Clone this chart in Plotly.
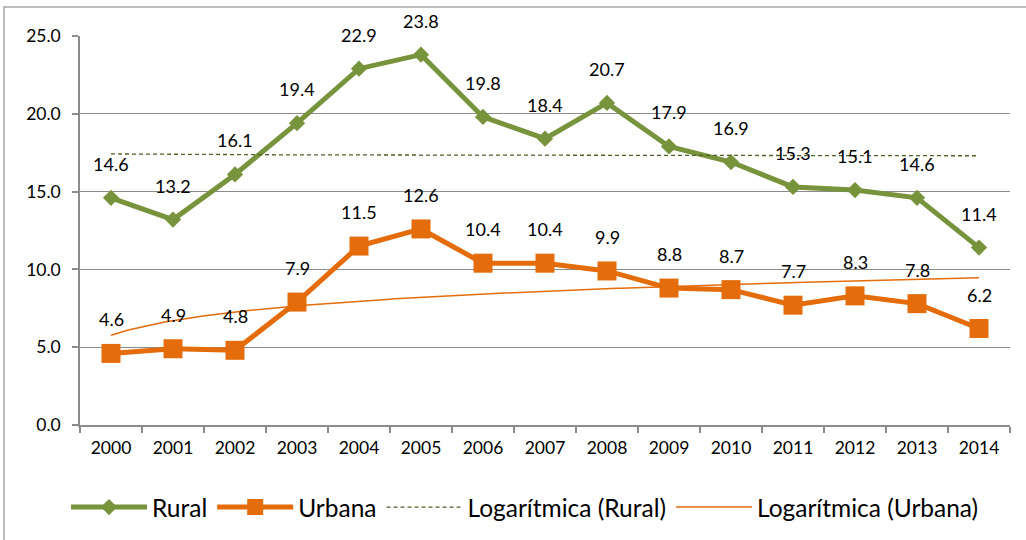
import numpy as np
import plotly.graph_objects as go

years = ["2000", "2001", "2002", "2003", "2004", "2005", "2006", "2007",
         "2008", "2009", "2010", "2011", "2012", "2013", "2014"]
rural = [14.6, 13.2, 16.1, 19.4, 22.9, 23.8, 19.8, 18.4, 20.7, 17.9, 16.9, 15.3, 15.1, 14.6, 11.4]
urbana = [4.6, 4.9, 4.8, 7.9, 11.5, 12.6, 10.4, 10.4, 9.9, 8.8, 8.7, 7.7, 8.3, 7.8, 6.2]
y_ticks = [0, 5, 10, 15, 20, 25]

GREEN = "#77933C"
ORANGE = "#E46C0A"
DKGREEN = "#4F6228"
GRID = "#8C8C8C"
FONT = "Lato"

xpos = np.arange(len(years))


def log_trend(vals):
    t = xpos + 1.0
    a, b = np.polyfit(np.log(t), np.array(vals), 1)
    tf = np.linspace(1, len(years), 200)
    return tf - 1, a * np.log(tf) + b


fig = go.Figure()
fig.add_trace(go.Scatter(x=xpos, y=rural, name="Rural", mode="lines+markers",
                         line=dict(color=GREEN, width=5),
                         marker=dict(symbol="diamond", size=12.5, color=GREEN)))
fig.add_trace(go.Scatter(x=xpos, y=urbana, name="Urbana", mode="lines+markers",
                         line=dict(color=ORANGE, width=5),
                         marker=dict(symbol="square", size=19, color=ORANGE)))
tx, ty = log_trend(rural)
fig.add_trace(go.Scatter(x=tx, y=ty, name="Logarítmica (Rural)", mode="lines",
                         line=dict(color=DKGREEN, width=1.3, dash="4px,3px")))
tx, ty = log_trend(urbana)
fig.add_trace(go.Scatter(x=tx, y=ty, name="Logarítmica (Urbana)", mode="lines",
                         line=dict(color=ORANGE, width=1.5)))

for series in (rural, urbana):
    for i, v in enumerate(series):
        fig.add_annotation(x=i, y=v, text=f"{v:.1f}", showarrow=False,
                           yshift=34, font=dict(family=FONT, size=18, color="#000"))

fig.add_shape(type="rect", xref="paper", yref="paper",
              x0=(4 - 80) / 930, x1=(1040 - 80) / 930,
              y0=(426 - 560) / 390, y1=(426 - 7) / 390,
              line=dict(color="#A6A6A6", width=1.5), layer="below")

fig.update_xaxes(range=[-0.5, len(years) - 0.5], tickvals=list(xpos), ticktext=years,
                 ticks="", showgrid=False, showline=True, linecolor=GRID, linewidth=1.5,
                 tickfont=dict(family=FONT, size=17.5, color="#000"),
                 ticklabelstandoff=6,
                 minor=dict(tickvals=list(np.arange(-0.5, len(years), 1.0)),
                            ticks="outside", ticklen=6, tickcolor=GRID, tickwidth=1.5,
                            showgrid=False),
                 zeroline=False)
fig.update_yaxes(range=[0, 25], tickvals=y_ticks, tickformat=".1f",
                 ticks="outside", ticklen=6, tickcolor=GRID, tickwidth=1.5,
                 showgrid=True, gridcolor=GRID, gridwidth=1.3,
                 showline=True, linecolor=GRID, linewidth=1.5, zeroline=False,
                 ticklabelstandoff=8,
                 tickfont=dict(family=FONT, size=17.5, color="#000"))

fig.update_layout(
    width=1026, height=540,
    margin=dict(l=80, r=16, t=36, b=114),
    plot_bgcolor="white", paper_bgcolor="white",
    font=dict(family=FONT, color="#000"),
    legend=dict(orientation="h", x=0.4785, xanchor="center", y=-0.208, yanchor="middle",
                font=dict(family=FONT, size=24.5, color="#000"),
                itemwidth=76, tracegroupgap=0),
    showlegend=True,
)

fig.write_html("out.html", config={"displayModeBar": False},
               post_script="document.body.style.margin='0';document.body.style.overflow='hidden';")
